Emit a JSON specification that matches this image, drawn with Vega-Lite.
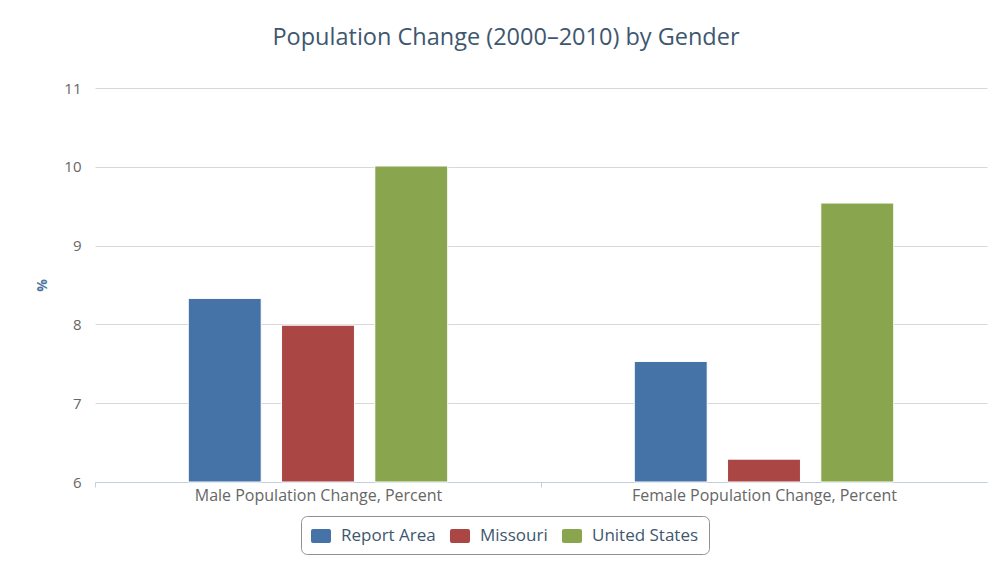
{
  "$schema": "https://vega.github.io/schema/vega-lite/v6.json",
  "width": 892,
  "height": 394,
  "autosize": "none",
  "padding": {"left": 95, "top": 88, "right": 2, "bottom": 85},
  "background": "white",
  "title": {
    "text": "Population Change (2000–2010) by Gender",
    "font": "Open Sans",
    "fontSize": 23.5,
    "fontWeight": "normal",
    "color": "#3E576F",
    "anchor": "middle",
    "dx": -35,
    "offset": 32
  },
  "data": {
    "values": [
      {"category": "Male Population Change, Percent", "area": "Report Area", "value": 8.33},
      {"category": "Male Population Change, Percent", "area": "Missouri", "value": 7.99},
      {"category": "Male Population Change, Percent", "area": "United States", "value": 10.01},
      {"category": "Female Population Change, Percent", "area": "Report Area", "value": 7.53},
      {"category": "Female Population Change, Percent", "area": "Missouri", "value": 6.29},
      {"category": "Female Population Change, Percent", "area": "United States", "value": 9.54}
    ]
  },
  "mark": {"type": "bar", "stroke": "white", "strokeWidth": 1},
  "encoding": {
    "x": {
      "field": "category",
      "type": "nominal",
      "sort": null,
      "scale": {"paddingInner": 0, "paddingOuter": 0},
      "axis": {
        "title": null,
        "labelAngle": 0,
        "labelFont": "Open Sans",
        "labelFontSize": 16,
        "labelColor": "#666666",
        "labelPadding": 0,
        "labelLimit": 0,
        "domainColor": "#C0D0E0",
        "tickColor": "#C0D0E0",
        "tickSize": 5,
        "tickOffset": -223,
        "labelOffset": 223
      }
    },
    "xOffset": {
      "field": "area",
      "type": "nominal",
      "sort": ["Report Area", "Missouri", "United States"],
      "scale": {"paddingInner": 0.218, "paddingOuter": 1.1}
    },
    "y": {
      "field": "value",
      "type": "quantitative",
      "scale": {"domain": [6, 11], "zero": false, "nice": false},
      "axis": {
        "title": "%",
        "titleFont": "Open Sans",
        "titleFontSize": 14,
        "titleFontWeight": "bold",
        "titleColor": "#4D759E",
        "titlePadding": 14,
        "values": [6, 7, 8, 9, 10, 11],
        "labelFont": "Open Sans",
        "labelFontSize": 15,
        "labelColor": "#666666",
        "labelPadding": 14,
        "ticks": false,
        "domain": false,
        "gridColor": "#D8D8D8",
        "gridWidth": 1
      }
    },
    "y2": {"datum": 6},
    "color": {
      "field": "area",
      "type": "nominal",
      "sort": ["Report Area", "Missouri", "United States"],
      "scale": {
        "domain": ["Report Area", "Missouri", "United States"],
        "range": ["#4572A7", "#AA4643", "#89A54E"]
      },
      "legend": {
        "title": null,
        "orient": "none",
        "direction": "horizontal",
        "legendX": 206,
        "legendY": 428,
        "strokeColor": "#909090",
        "cornerRadius": 6,
        "padding": 10,
        "symbolType": "M-0.8,-0.7 h1.6 a0.2,0.2 0 0 1 0.2,0.2 v1.0 a0.2,0.2 0 0 1 -0.2,0.2 h-1.6 a0.2,0.2 0 0 1 -0.2,-0.2 v-1.0 a0.2,0.2 0 0 1 0.2,-0.2 Z",
        "symbolSize": 400,
        "symbolStrokeWidth": 0,
        "symbolOpacity": 1,
        "labelFont": "Open Sans",
        "labelFontSize": 17,
        "labelColor": "#3E576F",
        "labelOffset": 10,
        "columnPadding": 14
      }
    }
  },
  "config": {
    "view": {"stroke": null}
  }
}
